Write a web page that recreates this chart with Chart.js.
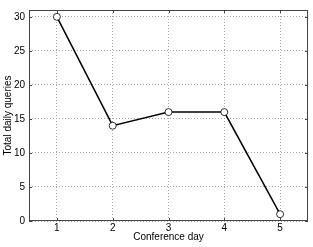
<!DOCTYPE html>
<html>
<head>
<meta charset="utf-8">
<script src="https://cdn.jsdelivr.net/npm/chart.js@4"></script>
<style>
  html, body { margin: 0; padding: 0; background: #fff; }
  canvas { display: block; }
</style>
</head>
<body>
<canvas id="lineChart" width="313" height="247"></canvas>
<script>
const days = [1, 2, 3, 4, 5];
const queries = [30, 14, 16, 16, 1];
const yTicks = [0, 5, 10, 15, 20, 25, 30];

// box around the plot with small inward ticks, matlab style
const boxPlugin = {
  id: 'box',
  afterDraw(chart) {
    const { ctx, chartArea: a, scales } = chart;
    ctx.save();
    ctx.strokeStyle = '#444';
    ctx.lineWidth = 1;
    ctx.strokeRect(a.left + 0.5, a.top + 0.5, a.right - a.left - 1, a.bottom - a.top - 1);
    ctx.beginPath();
    days.forEach((d) => {
      const x = Math.round(scales.x.getPixelForValue(d)) + 0.5;
      ctx.moveTo(x, a.bottom); ctx.lineTo(x, a.bottom - 3);
      ctx.moveTo(x, a.top); ctx.lineTo(x, a.top + 3);
    });
    yTicks.forEach((v) => {
      const y = Math.round(scales.y.getPixelForValue(v)) + 0.5;
      ctx.moveTo(a.left, y); ctx.lineTo(a.left + 3, y);
      ctx.moveTo(a.right, y); ctx.lineTo(a.right - 3, y);
    });
    ctx.stroke();
    ctx.restore();
  },
};

new Chart(document.getElementById('lineChart').getContext('2d'), {
  type: 'scatter',
  data: {
    datasets: [
      {
        data: days.map((d, i) => ({ x: d, y: queries[i] })),
        showLine: true,
        borderColor: '#000',
        borderWidth: 1.5,
        pointRadius: 3.5,
        pointBackgroundColor: '#fff',
        pointBorderColor: '#000',
        pointBorderWidth: 0.8,
      },
    ],
  },
  options: {
    responsive: false,
    animation: false,
    layout: { padding: { top: 5, right: 5, left: 0, bottom: 0 } },
    plugins: { legend: { display: false }, tooltip: { enabled: false } },
    scales: {
      x: {
        type: 'linear',
        min: 0.5,
        max: 5.5,
        afterBuildTicks: (s) => { s.ticks = days.map((v) => ({ value: v })); },
        afterFit: (s) => { s.height = 26; },
        grid: { color: '#aaa', drawTicks: false },
        border: { display: false, dash: [1, 2] },
        ticks: { color: '#000', padding: 1, font: { family: 'Liberation Sans', size: 10 } },
        title: {
          display: true,
          text: 'Conference day',
          color: '#000',
          padding: { top: 0, bottom: 4 },
          font: { family: 'Liberation Sans', size: 10 },
        },
      },
      y: {
        min: 0,
        max: 31,
        afterBuildTicks: (s) => { s.ticks = yTicks.map((v) => ({ value: v })); },
        afterFit: (s) => { s.width = 29; },
        grid: { color: '#aaa', drawTicks: false },
        border: { display: false, dash: [1, 2] },
        ticks: { color: '#000', padding: 4, font: { family: 'Liberation Sans', size: 10 } },
        title: {
          display: true,
          text: 'Total daily queries',
          color: '#000',
          padding: { top: 2, bottom: 0 },
          font: { family: 'Liberation Sans', size: 10 },
        },
      },
    },
  },
  plugins: [boxPlugin],
});
</script>
</body>
</html>
